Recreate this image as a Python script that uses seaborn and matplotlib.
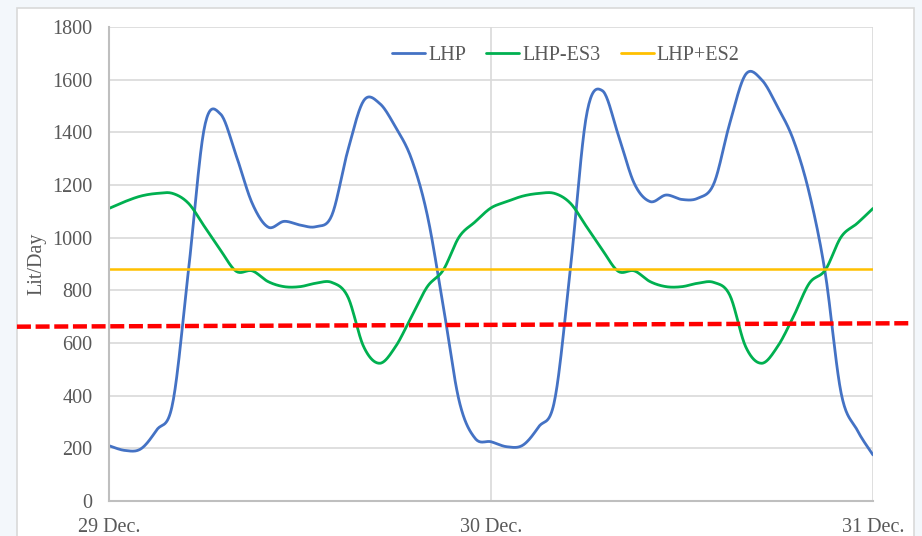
import numpy as np
import pandas as pd
import matplotlib
matplotlib.use("Agg")
import matplotlib.pyplot as plt
from matplotlib.patches import Rectangle
import seaborn as sns

# Hourly readings over two days (hour 0 = 29 Dec. 00:00)
hours = list(range(49))
lhp = [210, 192, 198, 270, 371, 880, 1420, 1470, 1310, 1130, 1040, 1062, 1048,
       1042, 1085, 1330, 1520, 1510, 1420, 1300, 1085, 740, 380, 238, 225,
       206, 212, 282, 383, 890, 1465, 1558, 1390, 1206, 1137, 1162, 1145,
       1150, 1205, 1434, 1620, 1600, 1497, 1371, 1168, 865, 409, 270, 175]
lhp_es3 = [1111, 1137, 1158, 1168, 1168, 1130, 1042, 953, 872, 874, 833, 814, 814,
           827, 830, 776, 586, 523, 586, 700, 814, 877, 1003, 1060, 1113,
           1137, 1158, 1168, 1168, 1130, 1042, 953, 872, 874, 833, 814, 814,
           827, 830, 782, 586, 523, 586, 700, 827, 877, 1003, 1054, 1111]
lhp_es2_level = 880
series_names = ["LHP", "LHP-ES3", "LHP+ES2"]
series_colors = ["#4472C4", "#00B050", "#FFC000"]

# Dashed reference line (spans beyond the plot area on both sides)
ref_x_days = [-0.241, 2.10]
ref_values = [662, 675]

tick_days = [0, 1, 2]
tick_labels = ["29 Dec.", "30 Dec.", "31 Dec."]
y_ticks = list(range(0, 1801, 200))


def smooth(x, y, steps=20):
    """Catmull-Rom spline through the points (like a spreadsheet's smoothed line)."""
    x = np.asarray(x, float)
    y = np.asarray(y, float)
    px = np.concatenate([[x[0]], x, [x[-1]]])
    py = np.concatenate([[y[0]], y, [y[-1]]])
    xs, ys = [], []
    t = np.linspace(0, 1, steps, endpoint=False)
    for i in range(1, len(px) - 2):
        for arr, out in ((px, xs), (py, ys)):
            p0, p1, p2, p3 = arr[i - 1], arr[i], arr[i + 1], arr[i + 2]
            out.extend(0.5 * ((2 * p1) + (-p0 + p2) * t
                              + (2 * p0 - 5 * p1 + 4 * p2 - p3) * t ** 2
                              + (-p0 + 3 * p1 - 3 * p2 + p3) * t ** 3))
    xs.append(x[-1])
    ys.append(y[-1])
    return np.array(xs), np.array(ys)


days = np.array(hours) / 24.0
frames = []
for name, vals in zip(series_names,
                      [lhp, lhp_es3, [lhp_es2_level] * len(hours)]):
    sx, sy = smooth(days, vals)
    frames.append(pd.DataFrame({"day": sx, "value": sy, "series": name}))
df = pd.concat(frames, ignore_index=True)

sns.set_theme(style="white")
plt.rcParams["font.family"] = ["Liberation Serif", "DejaVu Serif"]

FS = 14.5
W, H = 922, 536
fig = plt.figure(figsize=(W / 100, H / 100), dpi=100)
fig.patch.set_facecolor("#F3F7FB")
fig.patches.append(Rectangle((17 / W, -0.05), (914 - 17) / W, 1.05 - 8 / H,
                             transform=fig.transFigure, facecolor="white",
                             edgecolor="#D9D9D9", linewidth=1.2, zorder=-10))

ax = fig.add_axes([109 / W, 1 - 501 / H, (873 - 109) / W, (501 - 27) / H])
ax.set_facecolor("white")
ax.set_zorder(1)

sns.lineplot(data=df, x="day", y="value", hue="series", hue_order=series_names,
             palette=series_colors, sort=False, estimator=None, ax=ax,
             linewidth=2.0)
for line, lw in zip(ax.lines[:3], [2.0, 2.0, 1.8]):
    line.set_linewidth(lw)

ax.plot(ref_x_days, ref_values, color="#FF0000", linewidth=3.2,
        linestyle=(0, (3.15, 1.05)), clip_on=False, zorder=5)

ax.set_xlim(0, 2)
ax.set_ylim(0, 1800)
ax.set_xticks(tick_days)
ax.set_xticklabels(tick_labels)
ax.set_yticks(y_ticks)
ax.tick_params(axis="both", length=0, labelsize=FS, labelcolor="#595959")
ax.tick_params(axis="x", pad=12)
ax.tick_params(axis="y", pad=12)
ax.grid(True, color="#D9D9D9", linewidth=1.2)
ax.set_axisbelow(True)
for side in ["top", "right"]:
    ax.spines[side].set_visible(False)
for side in ["left", "bottom"]:
    ax.spines[side].set_color("#BFBFBF")
    ax.spines[side].set_linewidth(1.5)

ax.set_xlabel("")
ax.set_ylabel("Lit/Day", fontsize=FS, color="#595959", labelpad=4)

handles, labels = ax.get_legend_handles_labels()
leg = ax.legend(handles[:3], labels[:3], loc="center",
                bbox_to_anchor=(0.598, 0.939), ncol=3, frameon=False,
                fontsize=FS, handlelength=1.64, handletextpad=0.15,
                columnspacing=1.0)
for t in leg.get_texts():
    t.set_color("#595959")

fig.savefig("out.png", dpi=100, facecolor=fig.get_facecolor())
